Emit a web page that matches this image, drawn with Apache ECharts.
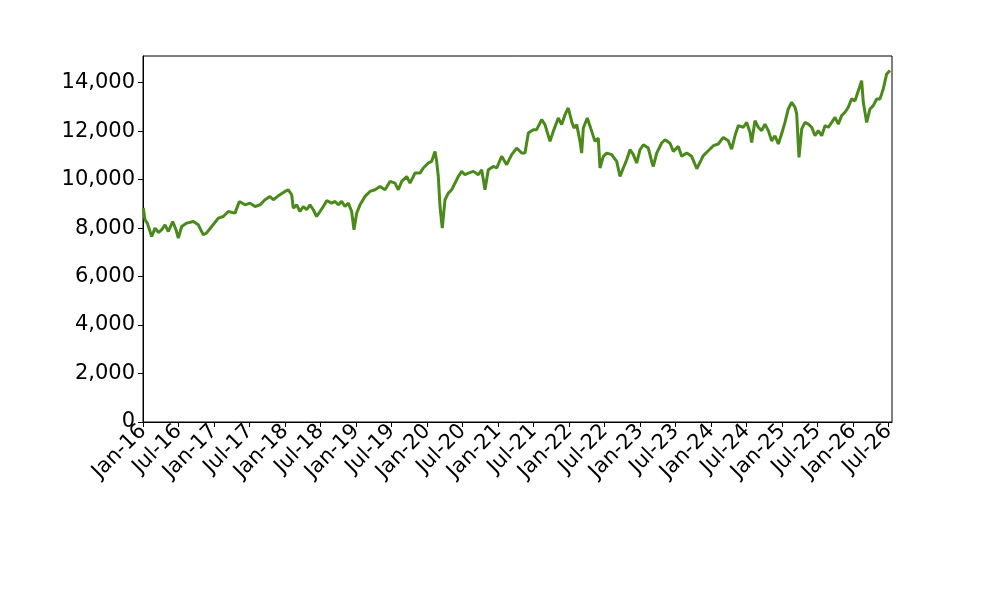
<!DOCTYPE html>
<html>
<head>
<meta charset="utf-8">
<script src="https://cdn.jsdelivr.net/npm/echarts@6/dist/echarts.min.js"></script>
<style>html,body{margin:0;padding:0;background:#fff;}#chart{width:1000px;height:600px;}</style>
</head>
<body>
<div id="chart"></div>
<script>
// x positions: months elapsed since Jan 2016 (fractional)
const monthOffsets = [
  0.05,0.34,0.73,1.47,2.03,2.59,3.16,3.72,4.28,5.02,5.58,5.97,6.54,7.39,8.50,9.35,10.19,10.76,11.61,
  12.73,13.57,14.42,15.55,16.28,17.24,18.09,18.93,19.77,20.62,21.46,22.02,22.87,24.0,24.56,25.13,25.4,
  25.98,26.53,27.09,27.66,28.22,28.78,29.35,29.92,30.47,31.05,31.89,32.45,33.01,33.58,34.14,34.70,35.27,
  35.66,36.12,36.68,37.52,38.37,39.21,40.06,40.9,41.75,42.59,43.15,43.73,44.57,45.13,45.97,46.82,47.38,
  48.22,48.79,49.35,49.63,49.91,50.2,50.58,51.04,51.6,52.17,52.73,53.29,53.86,54.42,54.98,55.83,56.67,
  57.24,57.8,58.36,59.2,59.78,60.62,61.47,62.31,63.16,64.0,64.56,65.13,65.97,66.53,67.38,67.94,68.79,
  69.34,70.19,70.76,71.32,71.88,72.45,72.84,73.3,73.86,74.14,74.42,75.09,75.84,76.39,76.95,77.24,77.8,
  78.37,79.21,80.06,80.62,81.18,81.75,82.31,82.87,83.44,84.0,84.56,85.41,85.97,86.25,86.82,87.66,88.22,
  89.07,89.63,90.47,91.04,91.89,92.73,93.6,94.7,95.54,96.39,97.23,98.08,98.92,99.49,100.05,100.61,
  101.46,102.03,102.59,102.87,103.43,104.0,104.56,105.12,105.69,106.25,106.81,107.38,107.95,108.5,
  109.06,109.63,110.2,110.48,110.87,111.33,111.89,112.45,113.01,113.58,114.13,114.71,115.27,115.82,
  116.4,116.96,117.52,118.08,118.65,119.2,119.77,120.33,120.9,121.46,121.74,122.31,122.87,123.43,124.0,
  124.56,125.11,125.69,126.25
];
const indexValues = [
  8826,8343,8206,7654,8000,7820,7930,8136,7860,8272,7930,7585,8067,8206,8272,8136,7723,7800,8067,
  8412,8480,8686,8617,9098,8960,9030,8892,8960,9168,9306,9168,9330,9512,9580,9375,8826,
  8960,8686,8892,8757,8960,8757,8480,8686,8892,9130,9030,9100,8960,9100,8892,9030,8686,
  7930,8620,8960,9306,9512,9580,9718,9580,9925,9855,9580,9925,10130,9855,10270,10270,10478,
  10684,10755,11163,10755,10130,8892,8000,9168,9445,9580,9858,10130,10340,10200,10270,10340,10200,
  10408,9580,10408,10545,10480,10960,10615,11030,11300,11100,11100,11923,12060,12060,12473,12270,11577,
  11990,12540,12270,12680,12955,12400,12130,12270,11577,11095,12130,12540,11990,11577,11710,10478,10960,
  11095,11030,10750,10130,10478,10820,11234,11030,10684,11234,11440,11300,10750,10545,11095,11510,11647,
  11500,11165,11370,10960,11095,10960,10450,10990,11190,11400,11470,11740,11600,11260,11810,12225,
  12160,12360,11950,11535,12430,12160,12020,12290,12020,11600,11810,11470,11900,12360,
  12915,13190,12985,12710,10920,12090,12360,12290,12160,11810,12020,11810,12225,12160,
  12360,12570,12290,12640,12780,12985,13330,13250,13670,14080,13190,12360,12915,13050,13330,
  13330,13740,14360,14500
];
const tickMonths = [0,6,12,18,24,30,36,42,48,54,60,66,72,78,84,90,96,102,108,114,120,126];
const monthNames = ['Jan','Jul'];
const yTicks = [0,2000,4000,6000,8000,10000,12000,14000];

const seriesData = monthOffsets.map((m, i) => [m, indexValues[i]]);

const chart = echarts.init(document.getElementById('chart'));
const font = 'DejaVu Sans';
chart.setOption({
  animation: false,
  backgroundColor: '#fff',
  grid: { left: 143, right: 108, top: 56, bottom: 178, show: true, borderColor: '#000', borderWidth: 1, backgroundColor: 'transparent' },
  xAxis: {
    type: 'value', min: 0, max: 126.59,
    splitLine: { show: false },
    axisLine: { show: true, onZero: false, lineStyle: { color: '#000', width: 1 } },
    axisTick: { show: true, inside: false, length: 5, lineStyle: { color: '#000' }, customValues: tickMonths },
    axisLabel: {
      customValues: tickMonths,
      rotate: 45, margin: 6, fontSize: 21, fontFamily: font, color: '#000',
      formatter: v => {
        const k = Math.round(v / 6);
        return monthNames[k % 2] + '-' + (16 + Math.floor(k / 2));
      }
    }
  },
  yAxis: {
    type: 'value', min: 0, max: 15100,
    splitLine: { show: false },
    axisLine: { show: true, lineStyle: { color: '#000', width: 1 } },
    axisTick: { show: true, inside: false, length: 5, lineStyle: { color: '#000' }, customValues: yTicks },
    axisLabel: {
      customValues: yTicks,
      fontSize: 21, fontFamily: font, color: '#000', margin: 8,
      formatter: v => v.toLocaleString('en-US')
    }
  },
  series: [{
    type: 'line', data: seriesData, showSymbol: false, smooth: false,
    lineStyle: { color: '#4a8a1a', width: 3 },
    itemStyle: { color: '#4a8a1a' }
  }]
});
</script>
</body>
</html>
